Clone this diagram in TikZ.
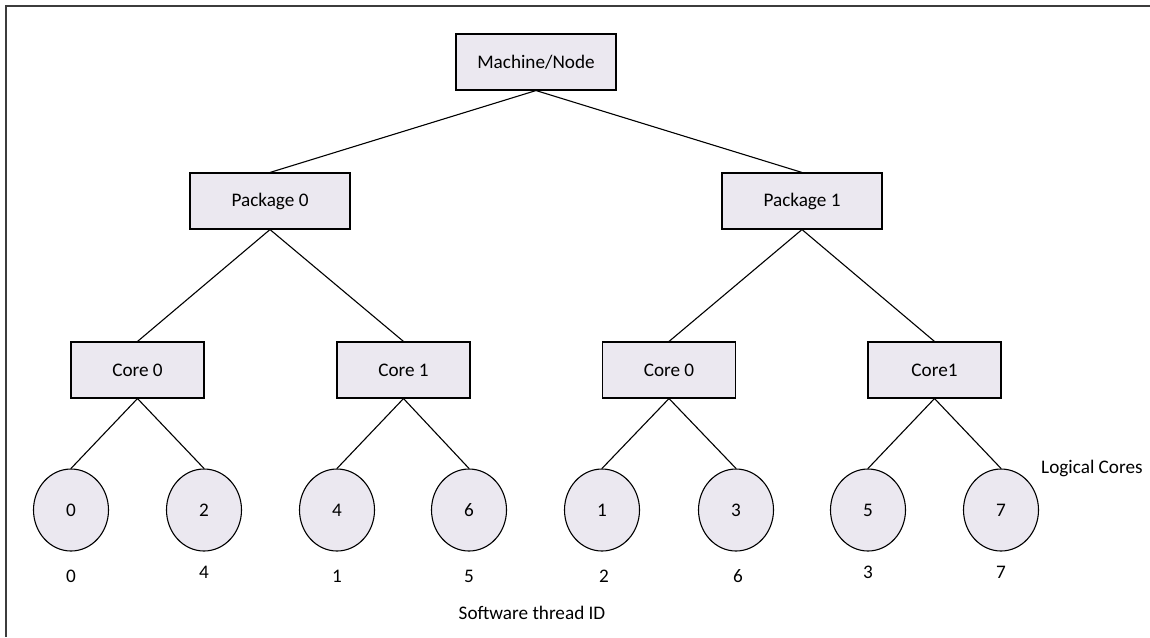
\documentclass[tikz,border=0pt]{standalone}
\usepackage{fontspec}
\setmainfont{Carlito}
\usepackage{tikz}
\usetikzlibrary{shapes.geometric}
\definecolor{boxfill}{RGB}{235,232,240}
\definecolor{framegray}{RGB}{60,60,60}

\begin{document}
\begin{tikzpicture}[x=0.5pt,y=-0.5pt,line width=0.55pt,font=\fontsize{9.6}{11.5}\selectfont]
  \tikzstyle{unit}=[draw, fill=boxfill, minimum width=80pt, minimum height=28pt, inner sep=0pt]
  \tikzstyle{core}=[unit, minimum width=66.5pt]
  \tikzstyle{lcore}=[draw, fill=boxfill, ellipse, minimum width=37.5pt, minimum height=41pt, inner sep=0pt]
  \useasboundingbox (0,0) rectangle (1150,637);
  \draw[framegray, line width=0.8pt] (1150,6) -- (6,6) -- (6,637);

  \node[unit] (M)  at (536,62)  {Machine/Node};
  \node[unit] (P0) at (270,201) {Package 0};
  \node[unit] (P1) at (802,201) {Package 1};
  \node[core] (C00) at (137.5,370) {Core 0};
  \node[core] (C01) at (403.5,370) {Core 1};
  \node[core] (C10) at (669,370)   {Core 0};
  \node[core] (C11) at (934.5,370) {Core1};

  % logical cores
  \node[lcore] (L0) at (71,510)   {0};
  \node[lcore] (L2) at (204,510)  {2};
  \node[lcore] (L4) at (337,510)  {4};
  \node[lcore] (L6) at (469,510)  {6};
  \node[lcore] (L1) at (602,510)  {1};
  \node[lcore] (L3) at (736,510)  {3};
  \node[lcore] (L5) at (868,510)  {5};
  \node[lcore] (L7) at (1001,510) {7};

  % software thread ids
  \node (T0) at (71,576)   {0};
  \node (T4) at (204,572)  {4};
  \node (T1) at (337,576)  {1};
  \node (T5) at (469,576)  {5};
  \node (T2) at (604,576)  {2};
  \node (T6) at (738,576)  {6};
  \node (T3) at (868,572)  {3};
  \node (T7) at (1001,572) {7};

  \node (lc)  [anchor=west] at (1034,468) {Logical Cores};
  \node (sw) at (532,613) {Software thread ID};

  \draw (M.south) edge (P0.north) edge (P1.north);
  \draw (P0.south) edge (C00.north) edge (C01.north)
        (P1.south) edge (C10.north) edge (C11.north);
  \draw (C00.south) edge (L0.north) edge (L2.north)
        (C01.south) edge (L4.north) edge (L6.north)
        (C10.south) edge (L1.north) edge (L3.north)
        (C11.south) edge (L5.north) edge (L7.north);
\end{tikzpicture}
\end{document}
